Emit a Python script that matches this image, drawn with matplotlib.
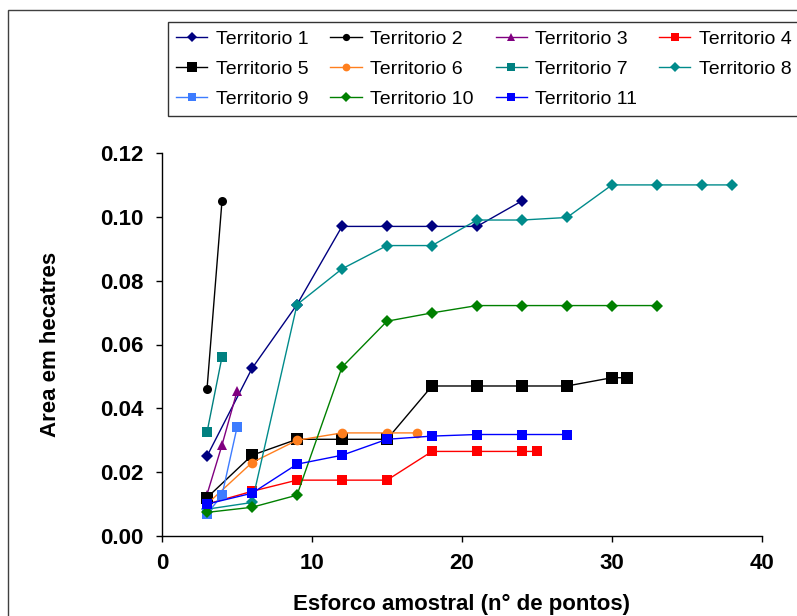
import numpy as np
import matplotlib
matplotlib.use("Agg")
import matplotlib.pyplot as plt
from matplotlib.patches import Rectangle

# donnees (esforco amostral vs area em hectares)
nomes = ["Territorio 1", "Territorio 2", "Territorio 3", "Territorio 4",
         "Territorio 5", "Territorio 6", "Territorio 7", "Territorio 8",
         "Territorio 9", "Territorio 10", "Territorio 11"]

x_t1 = [3, 6, 9, 12, 15, 18, 21, 24]
y_t1 = [0.025, 0.0525, 0.0725, 0.097, 0.097, 0.097, 0.097, 0.105]

x_t2 = [3, 4]
y_t2 = [0.046, 0.105]

x_t3 = [3, 4, 5]
y_t3 = [0.013, 0.0285, 0.0453]

x_t4 = [3, 6, 9, 12, 15, 18, 21, 24, 25]
y_t4 = [0.010, 0.014, 0.0175, 0.0175, 0.0175, 0.0265, 0.0265, 0.0265, 0.0265]

x_t5 = [3, 6, 9, 12, 15, 18, 21, 24, 27, 30, 31]
y_t5 = [0.012, 0.0253, 0.0303, 0.0303, 0.0303, 0.047, 0.047, 0.047, 0.047, 0.0496, 0.0496]

x_t6 = [3, 6, 9, 12, 15, 17]
y_t6 = [0.010, 0.023, 0.0300, 0.0323, 0.0323, 0.0323]

x_t7 = [3, 4]
y_t7 = [0.0325, 0.0561]

x_t8 = [3, 6, 9, 12, 15, 18, 21, 24, 27, 30, 33, 36, 38]
y_t8 = [0.0084, 0.0105, 0.0725, 0.0837, 0.091, 0.091, 0.099, 0.099, 0.0998, 0.110, 0.110, 0.110, 0.110]

x_t9 = [3, 4, 5]
y_t9 = [0.0069, 0.0128, 0.034]

x_t10 = [3, 6, 9, 12, 15, 18, 21, 24, 27, 30, 33]
y_t10 = [0.0074, 0.009, 0.0128, 0.0529, 0.0673, 0.0699, 0.0722, 0.0722, 0.0722, 0.0722, 0.0722]

x_t11 = [3, 6, 9, 12, 15, 18, 21, 24, 27]
y_t11 = [0.010, 0.0134, 0.0225, 0.0253, 0.0303, 0.0313, 0.0318, 0.0318, 0.0318]

xs = [x_t1, x_t2, x_t3, x_t4, x_t5, x_t6, x_t7, x_t8, x_t9, x_t10, x_t11]
ys = [y_t1, y_t2, y_t3, y_t4, y_t5, y_t6, y_t7, y_t8, y_t9, y_t10, y_t11]

# style de chaque serie : (couleur, marqueur, taille)
styles = [("#000080", "D", 6), ("#000000", "o", 6.5), ("#800080", "^", 7),
          ("#FF0000", "s", 7), ("#000000", "s", 9), ("#FF7F1E", "o", 7),
          ("#008080", "s", 7), ("#008B8B", "D", 6), ("#3D7CFF", "s", 7),
          ("#008000", "D", 6), ("#0000FF", "s", 7)]

plt.rcParams["font.family"] = ["Liberation Sans", "DejaVu Sans"]

fig = plt.figure(figsize=(7.97, 6.16), dpi=100)
ax = fig.add_axes([162 / 797, 80 / 616, 600 / 797, 383 / 616])

lignes = []
for x, y, nom, (c, m, ms) in zip(xs, ys, nomes, styles):
    l, = ax.plot(x, y, color=c, marker=m, markersize=ms, linewidth=1.0,
                 markeredgewidth=0, label=nom)
    lignes.append(l)

ax.set_xlim(0, 40)
ax.set_ylim(0, 0.12)
ax.set_xticks(np.arange(0, 41, 10))
ax.set_yticks(np.arange(0, 0.121, 0.02))
ax.set_yticklabels([f"{v:.2f}" for v in np.arange(0, 0.121, 0.02)])

for s in ["top", "right"]:
    ax.spines[s].set_visible(False)
for s in ["left", "bottom"]:
    ax.spines[s].set_linewidth(1.0)

ax.tick_params(direction="out", length=4, width=1, labelsize=16)
ax.tick_params(axis="y", pad=9)
ax.tick_params(axis="x", pad=8)
for t in ax.get_xticklabels() + ax.get_yticklabels():
    t.set_fontweight("bold")

ax.set_xlabel("Esforco amostral (n° de pontos)", fontsize=16, fontweight="bold")
ax.set_ylabel("Area em hecatres", fontsize=16, fontweight="bold")
ax.xaxis.set_label_coords(0.5, -0.15)
ax.yaxis.set_label_coords(-0.168, 0.5)

# legende remplie ligne par ligne (4 colonnes)
ordre = [0, 4, 8, 1, 5, 9, 2, 6, 10, 3, 7]
leg = fig.legend([lignes[i] for i in ordre], [nomes[i] for i in ordre],
                 loc="upper left", bbox_to_anchor=(168 / 797, 1 - 22 / 616),
                 ncol=4, fontsize=14, frameon=True, fancybox=False,
                 edgecolor="black", borderaxespad=0, borderpad=0.42,
                 handlelength=1.6, handletextpad=0.45, columnspacing=1.12,
                 labelspacing=0.65, markerscale=0.8)
leg.get_frame().set_linewidth(1.0)

# cadre exterieur du graphique
fig.patches.append(Rectangle((8 / 797, -0.1), 1.2, 1.1 - 10 / 616,
                             transform=fig.transFigure, fill=False,
                             edgecolor="#404040", linewidth=1.0))

fig.savefig("out.png", dpi=100)
